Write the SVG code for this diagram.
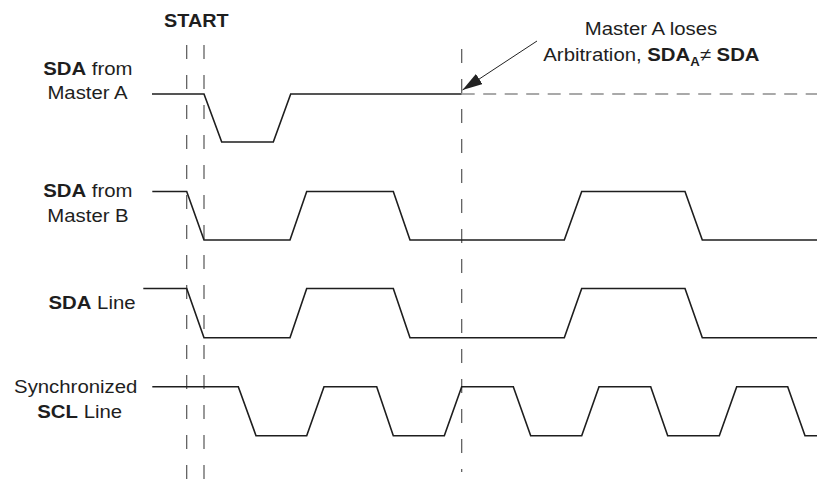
<svg xmlns="http://www.w3.org/2000/svg" width="817" height="484" viewBox="0 0 817 484">
<style>
.lbl{font-family:"Liberation Sans",Arial,sans-serif;font-size:18.5px;fill:#1e1e1e;}
.b{font-weight:bold;}
.sig{fill:none;stroke:#1e1e1e;stroke-width:1.6;stroke-linejoin:miter;}
.vd{fill:none;stroke:#555;stroke-width:1.2;stroke-dasharray:14 16;}
.hd{fill:none;stroke:#555;stroke-width:1.2;stroke-dasharray:13 8.5;}
.arr{fill:none;stroke:#222;stroke-width:1;}
</style>
<defs>
<marker id="ah" markerUnits="userSpaceOnUse" markerWidth="22" markerHeight="14" refX="20" refY="6" orient="auto">
<path d="M0,0 L20,6 L0,12 z" fill="#222"/>
</marker>
</defs>
<rect width="817" height="484" fill="#fff"/>

<g id="labels">
<text class="lbl b" text-anchor="middle" transform="translate(196.3,26.7) scale(1.07,1)">START</text>
<g id="lbl-sda-a">
<text class="lbl" text-anchor="middle" transform="translate(87.8,75) scale(1.1,1)"><tspan class="b">SDA</tspan> from</text>
<text class="lbl" text-anchor="middle" transform="translate(87.5,98.5) scale(1.1,1)">Master A</text>
</g>
<g id="lbl-sda-b">
<text class="lbl" text-anchor="middle" transform="translate(87.8,197) scale(1.1,1)"><tspan class="b">SDA</tspan> from</text>
<text class="lbl" text-anchor="middle" transform="translate(88,221.5) scale(1.1,1)">Master B</text>
</g>
<g id="lbl-sda-line">
<text class="lbl" text-anchor="middle" transform="translate(92,308.5) scale(1.1,1)"><tspan class="b">SDA</tspan> Line</text>
</g>
<g id="lbl-scl">
<text class="lbl" text-anchor="middle" transform="translate(75.7,393.3) scale(1.1,1)">Synchronized</text>
<text class="lbl" text-anchor="middle" transform="translate(79.7,417.7) scale(1.1,1)"><tspan class="b">SCL</tspan> Line</text>
</g>
<g id="annotation">
<text class="lbl" text-anchor="middle" transform="translate(651,34.7) scale(1.1,1)">Master A loses</text>
<text class="lbl" transform="translate(543.3,60.5) scale(1.1,1)">Arbitration, <tspan class="b">SDA</tspan><tspan class="b" font-size="12" dy="5.5">A</tspan><tspan dy="-5.5">≠ </tspan><tspan class="b">SDA</tspan></text>
</g>
</g>

<g id="guides">
<line class="vd" x1="186.7" y1="45" x2="186.7" y2="484"/>
<line class="vd" x1="204" y1="45" x2="204" y2="484"/>
<line class="vd" x1="461.7" y1="49" x2="461.7" y2="472"/>
</g>

<g id="sig-sda-a">
<path class="sig" d="M152,94 H204 L221.7,142 H273.3 L290.7,94 H461.7"/>
<line class="hd" x1="461.7" y1="94" x2="817" y2="94"/>
</g>
<g id="sig-sda-b">
<path class="sig" d="M152.3,191.5 H186.7 L204,240 H290 L306.7,191.5 H393.3 L410,240 H564.3 L581.7,191.5 H685 L702.3,240 H817"/>
</g>
<g id="sig-sda-line">
<path class="sig" d="M143.3,288.5 H186.7 L204,337.7 H290 L306.7,288.5 H393.3 L410,337.7 H564.3 L581.7,288.5 H685 L702.3,337.7 H817"/>
</g>
<g id="sig-scl">
<path class="sig" d="M152.3,386.7 H238.3 L256,435.7 H306.7 L324,386.7 H376.7 L393.3,435.7 H444.3 L461.7,386.7 H513.3 L530.7,435.7 H581.7 L599,386.7 H650.7 L667.7,435.7 H719.3 L736.7,386.7 H787.7 L805,435.7 H817"/>
</g>

<g id="connectors">
<line class="arr" x1="537" y1="41" x2="462.5" y2="90" marker-end="url(#ah)"/>
</g>
</svg>
